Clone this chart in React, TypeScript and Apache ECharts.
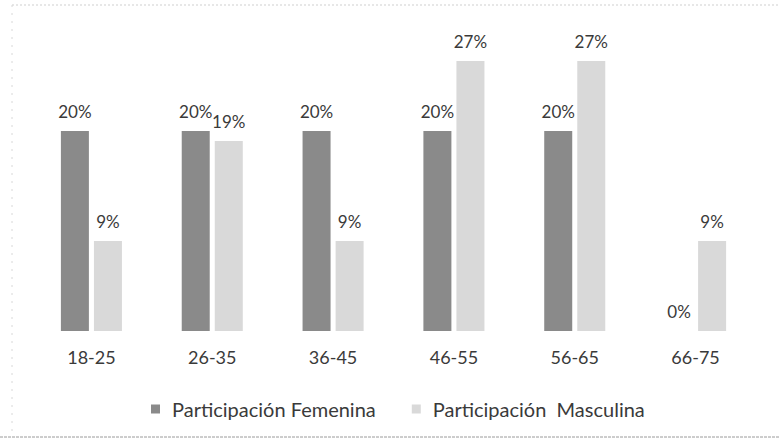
import React, { useEffect, useRef } from "react";
import * as echarts from "echarts";

const categories = ["18-25", "26-35", "36-45", "46-55", "56-65", "66-75"];
const femenina = [20, 20, 20, 20, 20, 0];
const masculina = [9, 19, 9, 27, 27, 9];
const seriesNames = ["Participación Femenina", "Participación  Masculina"];

const FONT = "Lato, 'Open Sans', sans-serif";

export default function App() {
  const ref = useRef<HTMLDivElement>(null);
  useEffect(() => {
    if (!ref.current) return;
    const chart = echarts.init(ref.current, null, { renderer: "svg" });
    const label = {
      show: true,
      position: "top",
      distance: 11,
      formatter: "{c}%",
      fontFamily: FONT,
      fontSize: 17,
      color: "#3a3a3a",
    };
    chart.setOption({
      animation: false,
      backgroundColor: "#ffffff",
      textStyle: { fontFamily: FONT },
      grid: { left: 31, right: 24, top: 31, bottom: 114, containLabel: false },
      legend: {
        bottom: 21,
        left: 146,
        itemWidth: 9,
        itemHeight: 9,
        itemGap: 36,
        icon: "rect",
        textStyle: { fontFamily: FONT, fontSize: 20, color: "#3a3a3a", padding: [0, 0, 0, 7] },
        data: seriesNames,
      },
      xAxis: {
        type: "category",
        data: categories,
        axisLine: { show: false },
        axisTick: { show: false },
        axisLabel: { fontFamily: FONT, fontSize: 18, color: "#3a3a3a", margin: 17 },
      },
      yAxis: {
        type: "value",
        min: 0,
        max: 30,
        show: false,
        splitLine: { show: false },
      },
      series: [
        {
          name: seriesNames[0],
          type: "bar",
          data: femenina,
          barWidth: 28,
          barGap: "18%",
          itemStyle: { color: "#8a8a8a" },
          label,
        },
        {
          name: seriesNames[1],
          type: "bar",
          data: masculina,
          barWidth: 28,
          barGap: "18%",
          itemStyle: { color: "#d9d9d9" },
          label,
        },
      ],
      graphic: [
        { type: "line", shape: { x1: 12, y1: 5, x2: 780, y2: 5 }, style: { stroke: "#cfcfcf", lineWidth: 1, lineDash: [2, 2] } },
        { type: "line", shape: { x1: 0, y1: 437, x2: 780, y2: 437 }, style: { stroke: "#9a9a9a", lineWidth: 1, lineDash: [3, 1] } },
        { type: "line", shape: { x1: 12, y1: 5, x2: 12, y2: 437 }, style: { stroke: "#d8d8d8", lineWidth: 1, lineDash: [2, 6] } },
      ],
    });
    return () => chart.dispose();
  }, []);
  return (
    <div
      ref={ref}
      style={{ width: 780, height: 445, position: "absolute", left: 0, top: 0 }}
    />
  );
}
